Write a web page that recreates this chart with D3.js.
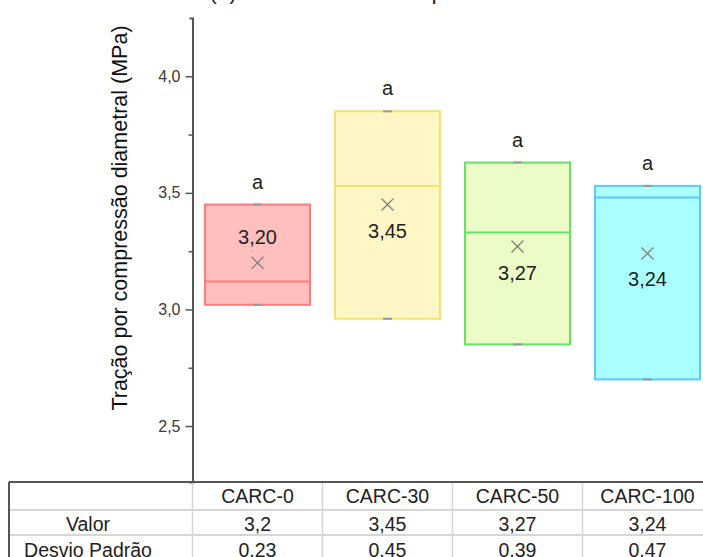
<!DOCTYPE html>
<html>
<head>
<meta charset="utf-8">
<script src="https://cdn.jsdelivr.net/npm/d3@7"></script>
<style>
  html, body { margin: 0; padding: 0; background: #fff; }
  svg { display: block; font-family: Arial, "Liberation Sans", sans-serif; }
</style>
</head>
<body>
<svg id="chart" width="703" height="557"></svg>
<script>
// Diametral compression tensile strength per mix
const categories = ["CARC-0", "CARC-30", "CARC-50", "CARC-100"];
const boxLow     = [3.02, 2.96, 2.85, 2.70];
const boxHigh    = [3.45, 3.85, 3.63, 3.53];
const medians    = [3.12, 3.53, 3.33, 3.48];
const means      = [3.20, 3.45, 3.27, 3.24];
const stdDevs    = [0.23, 0.45, 0.39, 0.47];
const groupLetters = ["a", "a", "a", "a"];
const majorTicks = [2.5, 3.0, 3.5, 4.0];
const minorTicks = [2.75, 3.25, 3.75];
const rowLabels  = ["Valor", "Desvio Padrão"];

const fills   = ["#ffbfbf", "#fff6c6", "#ebfcc6", "#aaffff"];
const strokes = ["#ff7a7a", "#efe46e", "#66e066", "#5bc8ff"];

const comma = v => String(v).replace(".", ",");
const fmt1 = v => d3.format(".1f")(v).replace(".", ",");
const fmt2 = v => d3.format(".2f")(v).replace(".", ",");

const svg = d3.select("#chart");

const x = d3.scaleBand()
  .domain(categories)
  .range([192.5, 712.5])
  .paddingInner(25 / 130)
  .paddingOuter(12.5 / 130);

const y = d3.scaleLinear().domain([2.26, 4.25]).range([482, 18]);

// Title (sits above the top edge)
svg.append("text")
  .attr("x", 209).attr("y", -1)
  .attr("font-size", 23).attr("fill", "#222")
  .text("(a) Resistência à compressão diametral");

// Y axis: major and minor ticks
const axisX = 192.5;
const yAxis = d3.axisLeft(y).tickValues(majorTicks).tickFormat(fmt1).tickSize(7).tickSizeOuter(3).tickPadding(5);
const gA = svg.append("g").attr("transform", `translate(${axisX},0)`).call(yAxis);
gA.select(".domain").attr("stroke", "#555").attr("stroke-width", 2);
gA.selectAll(".tick line").attr("stroke", "#555").attr("stroke-width", 1.5);
gA.selectAll(".tick text").attr("font-size", 16).attr("fill", "#3a3a3a")
  .attr("font-family", "Arial, 'Liberation Sans', sans-serif");

const yMinor = d3.axisLeft(y).tickValues(minorTicks).tickFormat("").tickSize(4).tickSizeOuter(0);
const gM = svg.append("g").attr("transform", `translate(${axisX},0)`).call(yMinor);
gM.select(".domain").remove();
gM.selectAll(".tick line").attr("stroke", "#555").attr("stroke-width", 1.5);

// Y axis title
svg.append("text")
  .attr("transform", `translate(127,${(28 + 408) / 2}) rotate(-90)`)
  .attr("text-anchor", "middle")
  .attr("font-size", 21.5).attr("fill", "#111")
  .text("Tração por compressão diametral (MPa)");

// Boxes
const bw = x.bandwidth();
const groups = svg.append("g").selectAll("g")
  .data(categories)
  .join("g");

groups.append("rect")
  .attr("x", d => x(d))
  .attr("y", (d, i) => y(boxHigh[i]))
  .attr("width", bw)
  .attr("height", (d, i) => y(boxLow[i]) - y(boxHigh[i]))
  .attr("fill", (d, i) => fills[i])
  .attr("stroke", (d, i) => strokes[i])
  .attr("stroke-width", 2);

groups.append("line")
  .attr("x1", d => x(d)).attr("x2", d => x(d) + bw)
  .attr("y1", (d, i) => y(medians[i])).attr("y2", (d, i) => y(medians[i]))
  .attr("stroke", (d, i) => strokes[i]).attr("stroke-width", 2);

// whisker caps at the box ends
[boxHigh, boxLow].forEach(arr => {
  groups.append("line")
    .attr("x1", d => x(d) + bw / 2 - 4.5).attr("x2", d => x(d) + bw / 2 + 4.5)
    .attr("y1", (d, i) => y(arr[i])).attr("y2", (d, i) => y(arr[i]))
    .attr("stroke", "#999").attr("stroke-width", 2);
});

// mean markers
const ms = 6;
groups.append("path")
  .attr("d", (d, i) => {
    const cx = x(d) + bw / 2, cy = y(means[i]);
    return `M${cx - ms},${cy - ms}L${cx + ms},${cy + ms}M${cx - ms},${cy + ms}L${cx + ms},${cy - ms}`;
  })
  .attr("stroke", "#808080").attr("stroke-width", 1.3).attr("fill", "none");

// mean value labels, placed on the side away from the median
groups.append("text")
  .attr("x", d => x(d) + bw / 2)
  .attr("y", (d, i) => {
    const cy = y(means[i]);
    return medians[i] < means[i] ? cy - 26 + 7 : cy + 26 + 7;
  })
  .attr("text-anchor", "middle")
  .attr("font-size", 20).attr("fill", "#222")
  .text((d, i) => fmt2(means[i]));

// group letters
groups.append("text")
  .attr("x", d => x(d) + bw / 2)
  .attr("y", (d, i) => y(boxHigh[i]) - 16)
  .attr("text-anchor", "middle")
  .attr("font-size", 20).attr("fill", "#222")
  .text((d, i) => groupLetters[i]);

// Data table below the plot
const tTop = 482, rowLines = [510, 535], tLeft = 9, tRight = 703;
const grid = svg.append("g");
rowLines.forEach(ry => grid.append("line")
  .attr("x1", tLeft).attr("x2", tRight).attr("y1", ry).attr("y2", ry)
  .attr("stroke", "#d6d6d6").attr("stroke-width", 2));
const colEdges = categories.map(c => x(c) - (x.step() - bw) / 2);
colEdges.forEach(cx => grid.append("line")
  .attr("x1", cx).attr("x2", cx).attr("y1", tTop).attr("y2", 557)
  .attr("stroke", "#d6d6d6").attr("stroke-width", 1.5));
grid.append("line").attr("x1", tLeft).attr("x2", tRight).attr("y1", tTop).attr("y2", tTop)
  .attr("stroke", "#555").attr("stroke-width", 2);
grid.append("line").attr("x1", tLeft).attr("x2", tLeft).attr("y1", tTop).attr("y2", 557)
  .attr("stroke", "#555").attr("stroke-width", 2);

const baselines = [503, 531, 557];
const cells = svg.append("g").attr("font-size", 19.5).attr("fill", "#222").attr("text-anchor", "middle");
categories.forEach((c, i) => {
  const cx = x(c) + bw / 2;
  cells.append("text").attr("x", cx).attr("y", baselines[0]).text(c);
  cells.append("text").attr("x", cx).attr("y", baselines[1]).text(comma(means[i]));
  cells.append("text").attr("x", cx).attr("y", baselines[2]).text(comma(stdDevs[i]));
});
rowLabels.forEach((r, j) => {
  cells.append("text").attr("x", 88).attr("y", baselines[j + 1]).text(r);
});
</script>
</body>
</html>
